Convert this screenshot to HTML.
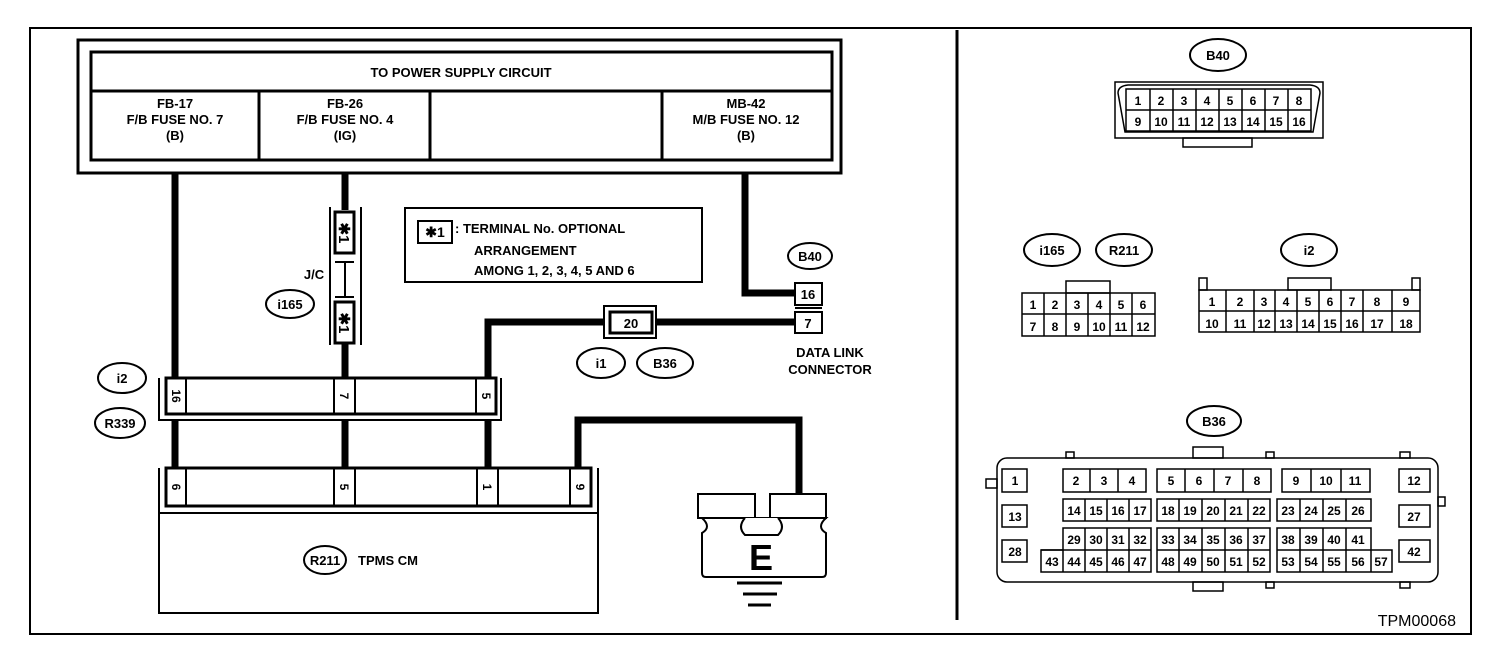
<!DOCTYPE html>
<html><head><meta charset="utf-8"><style>
html,body{margin:0;padding:0;background:#fff}
svg{display:block}
text{font-family:"Liberation Sans",sans-serif;font-weight:bold;fill:#000}
</style></head><body>
<svg width="1504" height="646" viewBox="0 0 1504 646" xmlns="http://www.w3.org/2000/svg">
<g fill="none" stroke="#000" stroke-width="2">
<rect x="30" y="28" width="1441" height="606"/>
</g>
<line x1="957" y1="30" x2="957" y2="620" stroke="#000" stroke-width="3"/>

<!-- power supply box -->
<g fill="none" stroke="#000" stroke-width="3">
<rect x="78" y="40" width="763" height="133"/>
<rect x="91" y="52" width="741" height="108"/>
<line x1="91" y1="91" x2="832" y2="91"/>
<line x1="259" y1="91" x2="259" y2="160"/>
<line x1="430" y1="91" x2="430" y2="160"/>
<line x1="662" y1="91" x2="662" y2="160"/>
</g>
<g font-size="13" text-anchor="middle">
<text x="461" y="77">TO POWER SUPPLY CIRCUIT</text>
<text x="175" y="108">FB-17</text><text x="175" y="124">F/B FUSE NO. 7</text><text x="175" y="140">(B)</text>
<text x="345" y="108">FB-26</text><text x="345" y="124">F/B FUSE NO. 4</text><text x="345" y="140">(IG)</text>
<text x="746" y="108">MB-42</text><text x="746" y="124">M/B FUSE NO. 12</text><text x="746" y="140">(B)</text>
</g>

<!-- wires -->
<g stroke="#000" stroke-width="7" fill="none">
<line x1="175" y1="173" x2="175" y2="378"/>
<line x1="175" y1="420" x2="175" y2="468"/>
<line x1="345" y1="173" x2="345" y2="210"/>
<line x1="345" y1="343" x2="345" y2="378"/>
<line x1="345" y1="420" x2="345" y2="468"/>
<polyline points="745,173 745,293 795,293"/>
<polyline points="488,378 488,322 610,322"/>
<line x1="652" y1="322" x2="795" y2="322"/>
<line x1="488" y1="420" x2="488" y2="468"/>
<polyline points="578,468 578,420 799,420 799,494"/>
</g>

<!-- J/C -->
<g fill="none" stroke="#000" stroke-width="2">
<line x1="330" y1="207" x2="330" y2="345"/><line x1="361" y1="207" x2="361" y2="345"/>
<rect x="335" y="212" width="19" height="41" stroke-width="3"/>
<rect x="335" y="302" width="19" height="41" stroke-width="3"/>
<line x1="335" y1="262" x2="354" y2="262"/><line x1="335" y1="297" x2="354" y2="297"/>
<line x1="345" y1="262" x2="345" y2="297" stroke-width="2"/>
</g>
<text font-size="15" transform="translate(339,233) rotate(90)" text-anchor="middle">✱1</text>
<text font-size="15" transform="translate(339,323) rotate(90)" text-anchor="middle">✱1</text>
<text x="314" y="279" font-size="13" text-anchor="middle">J/C</text>
<ellipse cx="290" cy="304" rx="24" ry="14" fill="none" stroke="#000" stroke-width="2"/>
<text x="290" y="309" font-size="13" text-anchor="middle">i165</text>

<!-- note -->
<rect x="405" y="208" width="297" height="74" fill="none" stroke="#000" stroke-width="2"/>
<rect x="418" y="221" width="34" height="22" fill="none" stroke="#000" stroke-width="2"/>
<text x="435" y="237" font-size="14" text-anchor="middle">✱1</text>
<g font-size="13"><text x="455" y="233">: TERMINAL No. OPTIONAL</text>
<text x="474" y="255">ARRANGEMENT</text><text x="474" y="275">AMONG 1, 2, 3, 4, 5 AND 6</text></g>

<!-- B40 DLC -->
<ellipse cx="810" cy="256" rx="22" ry="13" fill="none" stroke="#000" stroke-width="2"/>
<text x="810" y="261" font-size="13" text-anchor="middle">B40</text>
<g fill="#fff" stroke="#000" stroke-width="2">
<rect x="795" y="283" width="27" height="22"/><rect x="795" y="312" width="27" height="21"/>
</g>
<line x1="795" y1="308" x2="822" y2="308" stroke="#000" stroke-width="2"/>
<text x="808" y="299" font-size="13" text-anchor="middle">16</text>
<text x="808" y="328" font-size="13" text-anchor="middle">7</text>
<text x="830" y="357" font-size="13" text-anchor="middle">DATA LINK</text>
<text x="830" y="374" font-size="13" text-anchor="middle">CONNECTOR</text>

<!-- 20 -->
<g fill="#fff" stroke="#000" stroke-width="2">
<rect x="604" y="306" width="52" height="32"/>
<rect x="610" y="312" width="42" height="21" stroke-width="3"/>
</g>
<text x="631" y="328" font-size="13" text-anchor="middle">20</text>
<ellipse cx="601" cy="363" rx="24" ry="15" fill="none" stroke="#000" stroke-width="2"/>
<text x="601" y="368" font-size="13" text-anchor="middle">i1</text>
<ellipse cx="665" cy="363" rx="28" ry="15" fill="none" stroke="#000" stroke-width="2"/>
<text x="665" y="368" font-size="13" text-anchor="middle">B36</text>

<!-- i2/R339 connector -->
<g fill="none" stroke="#000" stroke-width="2">
<polyline points="159,378 159,420 501,420 501,378"/>
<rect x="166" y="378" width="330" height="36" stroke-width="3"/>
<rect x="166" y="378" width="20" height="36"/>
<rect x="334" y="378" width="21" height="36"/>
<rect x="476" y="378" width="20" height="36"/>
</g>
<g font-size="12" text-anchor="middle">
<text transform="translate(172,396) rotate(90)">16</text>
<text transform="translate(340,396) rotate(90)">7</text>
<text transform="translate(482,396) rotate(90)">5</text>
</g>
<ellipse cx="122" cy="378" rx="24" ry="15" fill="none" stroke="#000" stroke-width="2"/>
<text x="122" y="383" font-size="13" text-anchor="middle">i2</text>
<ellipse cx="120" cy="423" rx="25" ry="15" fill="none" stroke="#000" stroke-width="2"/>
<text x="120" y="428" font-size="13" text-anchor="middle">R339</text>

<!-- TPMS CM -->
<g fill="none" stroke="#000" stroke-width="2">
<polyline points="159,468 159,613 598,613 598,468"/>
<line x1="159" y1="513" x2="598" y2="513"/>
<rect x="166" y="468" width="425" height="38" stroke-width="3"/>
<rect x="166" y="468" width="20" height="38"/>
<rect x="334" y="468" width="21" height="38"/>
<rect x="477" y="468" width="21" height="38"/>
<rect x="570" y="468" width="21" height="38"/>
</g>
<g font-size="12" text-anchor="middle">
<text transform="translate(172,487) rotate(90)">6</text>
<text transform="translate(340,487) rotate(90)">5</text>
<text transform="translate(483,487) rotate(90)">1</text>
<text transform="translate(576,487) rotate(90)">9</text>
</g>
<ellipse cx="325" cy="560" rx="21" ry="14" fill="none" stroke="#000" stroke-width="2"/>
<text x="325" y="565" font-size="13" text-anchor="middle">R211</text>
<text x="358" y="565" font-size="13">TPMS CM</text>

<!-- ground -->
<g fill="#fff" stroke="#000" stroke-width="2">
<path d="M702,518 Q712,527 702,533 L702,573 Q702,577 706,577 L822,577 Q826,577 826,573 L826,533 Q816,527 826,518 Z"/>
<rect x="698" y="494" width="57" height="24"/>
<rect x="770" y="494" width="56" height="24"/>
<path d="M745,518 Q737,527 745,535 L778,535 Q786,527 778,518" />
</g>
<text x="761" y="570" font-size="36" text-anchor="middle">E</text>
<g stroke="#000" stroke-width="3">
<line x1="737" y1="583" x2="782" y2="583"/><line x1="743" y1="594" x2="777" y2="594"/><line x1="748" y1="605" x2="771" y2="605"/>
</g>

<!-- RIGHT: B40 -->
<ellipse cx="1218" cy="55" rx="28" ry="16" fill="none" stroke="#000" stroke-width="2"/>
<text x="1218" y="60" font-size="13" text-anchor="middle">B40</text>
<g fill="none" stroke="#000" stroke-width="1.5">
<rect x="1115" y="82" width="208" height="56"/>
<path d="M1118,93 L1125,132 L1313,132 L1320,93 Q1320,86 1310,85 L1128,85 Q1118,86 1118,93Z"/>
<rect x="1183" y="138" width="69" height="9"/>
<rect x="1126" y="89" width="185" height="42"/>
<line x1="1126" y1="110" x2="1311" y2="110"/>
</g>
<g id="b40c" stroke="#000" stroke-width="1.5">
<line x1="1150" y1="89" x2="1150" y2="131"/><line x1="1173" y1="89" x2="1173" y2="131"/><line x1="1196" y1="89" x2="1196" y2="131"/><line x1="1219" y1="89" x2="1219" y2="131"/><line x1="1242" y1="89" x2="1242" y2="131"/><line x1="1265" y1="89" x2="1265" y2="131"/><line x1="1288" y1="89" x2="1288" y2="131"/>
</g>
<g font-size="12" font-weight="normal" text-anchor="middle" style="font-weight:normal">
<text x="1138" y="105">1</text><text x="1161" y="105">2</text><text x="1184" y="105">3</text><text x="1207" y="105">4</text><text x="1230" y="105">5</text><text x="1253" y="105">6</text><text x="1276" y="105">7</text><text x="1299" y="105">8</text>
<text x="1138" y="126">9</text><text x="1161" y="126">10</text><text x="1184" y="126">11</text><text x="1207" y="126">12</text><text x="1230" y="126">13</text><text x="1253" y="126">14</text><text x="1276" y="126">15</text><text x="1299" y="126">16</text>
</g>

<!-- i165 / R211 -->
<ellipse cx="1052" cy="250" rx="28" ry="16" fill="none" stroke="#000" stroke-width="2"/>
<text x="1052" y="255" font-size="13" text-anchor="middle">i165</text>
<ellipse cx="1124" cy="250" rx="28" ry="16" fill="none" stroke="#000" stroke-width="2"/>
<text x="1124" y="255" font-size="13" text-anchor="middle">R211</text>
<g fill="none" stroke="#000" stroke-width="1.5">
<rect x="1066" y="281" width="44" height="12"/>
<rect x="1022" y="293" width="133" height="43"/>
<line x1="1022" y1="314" x2="1155" y2="314"/>
<line x1="1044" y1="293" x2="1044" y2="336"/><line x1="1066" y1="293" x2="1066" y2="336"/><line x1="1088" y1="293" x2="1088" y2="336"/><line x1="1110" y1="293" x2="1110" y2="336"/><line x1="1132" y1="293" x2="1132" y2="336"/>
</g>
<g font-size="12" text-anchor="middle" style="font-weight:normal">
<text x="1033" y="309">1</text><text x="1055" y="309">2</text><text x="1077" y="309">3</text><text x="1099" y="309">4</text><text x="1121" y="309">5</text><text x="1143" y="309">6</text>
<text x="1033" y="331">7</text><text x="1055" y="331">8</text><text x="1077" y="331">9</text><text x="1099" y="331">10</text><text x="1121" y="331">11</text><text x="1143" y="331">12</text>
</g>

<!-- i2 -->
<ellipse cx="1309" cy="250" rx="28" ry="16" fill="none" stroke="#000" stroke-width="2"/>
<text x="1309" y="255" font-size="13" text-anchor="middle">i2</text>
<g fill="none" stroke="#000" stroke-width="1.5">
<rect x="1288" y="278" width="43" height="12"/>
<rect x="1199" y="278" width="8" height="12"/><rect x="1412" y="278" width="8" height="12"/>
<rect x="1199" y="290" width="221" height="42"/>
<line x1="1199" y1="311" x2="1420" y2="311"/>
<line x1="1226" y1="290" x2="1226" y2="332"/><line x1="1254" y1="290" x2="1254" y2="332"/><line x1="1275" y1="290" x2="1275" y2="332"/><line x1="1297" y1="290" x2="1297" y2="332"/><line x1="1319" y1="290" x2="1319" y2="332"/><line x1="1341" y1="290" x2="1341" y2="332"/><line x1="1363" y1="290" x2="1363" y2="332"/><line x1="1392" y1="290" x2="1392" y2="332"/>
</g>
<g font-size="12" text-anchor="middle" style="font-weight:normal">
<text x="1212" y="306">1</text><text x="1240" y="306">2</text><text x="1264" y="306">3</text><text x="1286" y="306">4</text><text x="1308" y="306">5</text><text x="1330" y="306">6</text><text x="1352" y="306">7</text><text x="1377" y="306">8</text><text x="1406" y="306">9</text>
<text x="1212" y="328">10</text><text x="1240" y="328">11</text><text x="1264" y="328">12</text><text x="1286" y="328">13</text><text x="1308" y="328">14</text><text x="1330" y="328">15</text><text x="1352" y="328">16</text><text x="1377" y="328">17</text><text x="1406" y="328">18</text>
</g>

<!-- B36 -->
<ellipse cx="1214" cy="421" rx="27" ry="15" fill="none" stroke="#000" stroke-width="2"/>
<text x="1214" y="426" font-size="13" text-anchor="middle">B36</text>
<g fill="none" stroke="#000" stroke-width="1.5">
<rect x="997" y="458" width="441" height="124" rx="10"/>
<rect x="1066" y="452" width="8" height="6"/><rect x="1193" y="447" width="30" height="11"/><rect x="1266" y="452" width="8" height="6"/><rect x="1400" y="452" width="10" height="6"/>
<rect x="1193" y="582" width="30" height="9"/><rect x="1266" y="582" width="8" height="6"/><rect x="1400" y="582" width="10" height="6"/>
<rect x="986" y="479" width="11" height="9"/><rect x="1438" y="497" width="7" height="9"/>
<rect x="1002" y="469" width="25" height="23"/><rect x="1002" y="505" width="25" height="22"/><rect x="1002" y="540" width="25" height="22"/>
<rect x="1399" y="469" width="31" height="23"/><rect x="1399" y="505" width="31" height="22"/><rect x="1399" y="540" width="31" height="22"/>
<rect x="1063" y="469" width="83" height="23"/><line x1="1090" y1="469" x2="1090" y2="492"/><line x1="1118" y1="469" x2="1118" y2="492"/>
<rect x="1157" y="469" width="114" height="23"/><line x1="1185" y1="469" x2="1185" y2="492"/><line x1="1214" y1="469" x2="1214" y2="492"/><line x1="1243" y1="469" x2="1243" y2="492"/>
<rect x="1282" y="469" width="88" height="23"/><line x1="1311" y1="469" x2="1311" y2="492"/><line x1="1341" y1="469" x2="1341" y2="492"/>
<rect x="1063" y="499" width="88" height="22"/><line x1="1085" y1="499" x2="1085" y2="521"/><line x1="1107" y1="499" x2="1107" y2="521"/><line x1="1129" y1="499" x2="1129" y2="521"/>
<rect x="1157" y="499" width="113" height="22"/><line x1="1179" y1="499" x2="1179" y2="521"/><line x1="1202" y1="499" x2="1202" y2="521"/><line x1="1225" y1="499" x2="1225" y2="521"/><line x1="1248" y1="499" x2="1248" y2="521"/>
<rect x="1277" y="499" width="94" height="22"/><line x1="1300" y1="499" x2="1300" y2="521"/><line x1="1323" y1="499" x2="1323" y2="521"/><line x1="1346" y1="499" x2="1346" y2="521"/>
<path d="M1063,528 L1151,528 L1151,572 L1041,572 L1041,550 L1063,550 Z"/><line x1="1041" y1="550" x2="1151" y2="550"/>
<line x1="1063" y1="550" x2="1063" y2="572"/><line x1="1085" y1="528" x2="1085" y2="572"/><line x1="1107" y1="528" x2="1107" y2="572"/><line x1="1129" y1="528" x2="1129" y2="572"/>
<rect x="1157" y="528" width="113" height="44"/><line x1="1157" y1="550" x2="1270" y2="550"/>
<line x1="1179" y1="528" x2="1179" y2="572"/><line x1="1202" y1="528" x2="1202" y2="572"/><line x1="1225" y1="528" x2="1225" y2="572"/><line x1="1248" y1="528" x2="1248" y2="572"/>
<path d="M1277,528 L1371,528 L1371,550 L1392,550 L1392,572 L1277,572 Z"/><line x1="1277" y1="550" x2="1371" y2="550"/>
<line x1="1300" y1="528" x2="1300" y2="572"/><line x1="1323" y1="528" x2="1323" y2="572"/><line x1="1346" y1="528" x2="1346" y2="572"/><line x1="1371" y1="550" x2="1371" y2="572"/>
</g>
<g font-size="12" text-anchor="middle" style="font-weight:normal">
<text x="1015" y="485">1</text><text x="1076" y="485">2</text><text x="1104" y="485">3</text><text x="1132" y="485">4</text>
<text x="1171" y="485">5</text><text x="1199" y="485">6</text><text x="1228" y="485">7</text><text x="1257" y="485">8</text>
<text x="1296" y="485">9</text><text x="1326" y="485">10</text><text x="1355" y="485">11</text><text x="1414" y="485">12</text>
<text x="1015" y="521">13</text><text x="1414" y="521">27</text><text x="1015" y="556">28</text><text x="1414" y="556">42</text>
<text x="1074" y="515">14</text><text x="1096" y="515">15</text><text x="1118" y="515">16</text><text x="1140" y="515">17</text>
<text x="1168" y="515">18</text><text x="1190" y="515">19</text><text x="1213" y="515">20</text><text x="1236" y="515">21</text><text x="1259" y="515">22</text>
<text x="1288" y="515">23</text><text x="1311" y="515">24</text><text x="1334" y="515">25</text><text x="1358" y="515">26</text>
<text x="1074" y="544">29</text><text x="1096" y="544">30</text><text x="1118" y="544">31</text><text x="1140" y="544">32</text>
<text x="1168" y="544">33</text><text x="1190" y="544">34</text><text x="1213" y="544">35</text><text x="1236" y="544">36</text><text x="1259" y="544">37</text>
<text x="1288" y="544">38</text><text x="1311" y="544">39</text><text x="1334" y="544">40</text><text x="1358" y="544">41</text>
<text x="1052" y="566">43</text><text x="1074" y="566">44</text><text x="1096" y="566">45</text><text x="1118" y="566">46</text><text x="1140" y="566">47</text>
<text x="1168" y="566">48</text><text x="1190" y="566">49</text><text x="1213" y="566">50</text><text x="1236" y="566">51</text><text x="1259" y="566">52</text>
<text x="1288" y="566">53</text><text x="1311" y="566">54</text><text x="1334" y="566">55</text><text x="1358" y="566">56</text><text x="1381" y="566">57</text>
</g>
<text x="1456" y="626" font-size="16" text-anchor="end" style="font-weight:normal">TPM00068</text>
</svg>
</body></html>
